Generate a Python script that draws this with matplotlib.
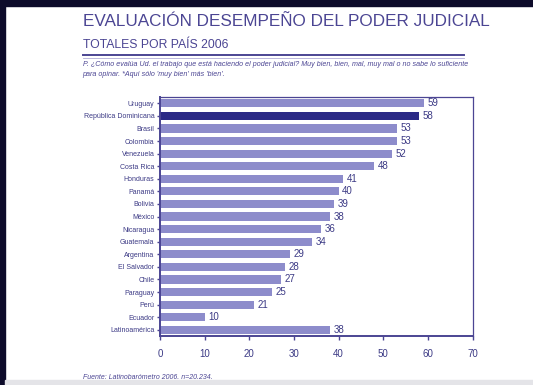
import matplotlib
matplotlib.use("Agg")
import matplotlib.pyplot as plt
from matplotlib.patches import Rectangle
from matplotlib.lines import Line2D
import numpy as np

paises = ["Uruguay", "República Dominicana", "Brasil", "Colombia", "Venezuela",
          "Costa Rica", "Honduras", "Panamá", "Bolivia", "México", "Nicaragua",
          "Guatemala", "Argentina", "El Salvador", "Chile", "Paraguay", "Perú",
          "Ecuador", "Latinoamérica"]
valores = [59, 58, 53, 53, 52, 48, 41, 40, 39, 38, 36, 34, 29, 28, 27, 25, 21, 10, 38]
destacado = "República Dominicana"
xticks = [0, 10, 20, 30, 40, 50, 60, 70]

plt.rcParams["font.family"] = ["Liberation Sans", "DejaVu Sans"]
morado = "#4b4593"
barra = "#8d8ccb"
oscuro = "#2b2a86"

fig = plt.figure(figsize=(5.33, 3.85), dpi=100)
fig.patch.set_facecolor("white")

# marco oscuro y franja inferior
fig.patches.append(Rectangle((0, 0), 0.010, 1, transform=fig.transFigure, color="#0d0b2a", zorder=0))
fig.patches.append(Rectangle((0, 0.984), 1, 0.016, transform=fig.transFigure, color="#0d0b2a", zorder=0))
fig.patches.append(Rectangle((0.010, 0), 0.99, 0.013, transform=fig.transFigure, color="#e4e4e8", zorder=0))

fig.text(0.155, 0.943, "EVALUACIÓN DESEMPEÑO DEL PODER JUDICIAL", color=morado,
         fontsize=12.3, ha="left", va="center")
fig.text(0.155, 0.883, "TOTALES POR PAÍS 2006", color=morado, fontsize=8.8,
         ha="left", va="center")
fig.lines.append(Line2D([0.155, 0.870], [0.857, 0.857], transform=fig.transFigure,
                        color=morado, lw=1.4))
fig.lines.append(Line2D([0.155, 0.870], [0.850, 0.850], transform=fig.transFigure,
                        color="#b0acd6", lw=0.6))
fig.text(0.155, 0.833, "P. ¿Cómo evalúa Ud. el trabajo que está haciendo el poder judicial? "
         "Muy bien, bien, mal, muy mal o no sabe lo suficiente", color=morado,
         fontsize=5.1, style="italic", ha="left", va="center")
fig.text(0.155, 0.807, "para opinar. *Aquí sólo 'muy bien' más 'bien'.", color=morado,
         fontsize=5.1, style="italic", ha="left", va="center")
fig.text(0.155, 0.020, "Fuente: Latinobarómetro 2006. n=20.234.", color=morado,
         fontsize=5.0, style="italic", ha="left", va="center")

ax = fig.add_axes([0.300, 0.127, 0.587, 0.621])
y = np.arange(len(paises))
colores = [oscuro if p == destacado else barra for p in paises]
ax.barh(y, valores, height=0.65, color=colores, zorder=2)
for yi, v in zip(y, valores):
    ax.text(v + 0.8, yi, str(v), va="center", ha="left", fontsize=7,
            color="#3c3a85")

ax.set_xlim(0, 70)
ax.set_ylim(len(paises) - 0.5, -0.5)
ax.set_xticks(xticks)
ax.set_xticklabels([str(t) for t in xticks], fontsize=7, color="#3c3a85")
ax.set_yticks(y)
ax.set_yticklabels(paises, fontsize=5.0, color="#3c3a85")
ax.tick_params(axis="x", length=3, width=1, color=morado, pad=6)
ax.tick_params(axis="y", length=2, width=1, color=morado, pad=2)
for lado in ["left", "bottom"]:
    ax.spines[lado].set_color(morado)
    ax.spines[lado].set_linewidth(1.4)
for lado in ["top", "right"]:
    ax.spines[lado].set_color(morado)
    ax.spines[lado].set_linewidth(0.9)

fig.savefig("out.png", dpi=100)
